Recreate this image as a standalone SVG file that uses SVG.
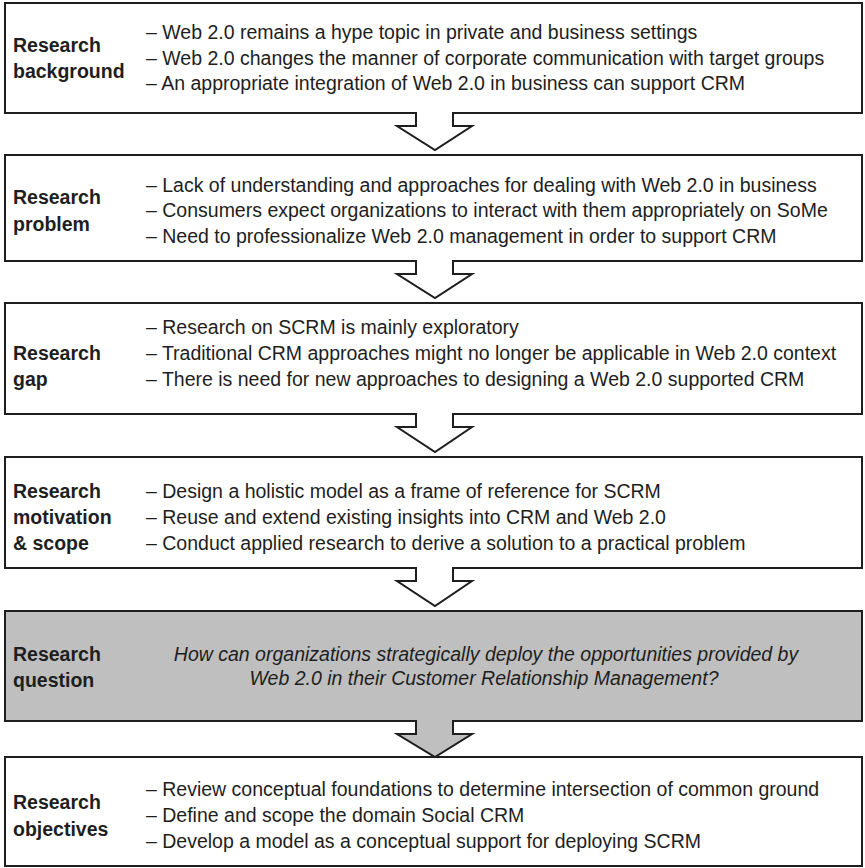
<svg xmlns="http://www.w3.org/2000/svg" width="865" height="868" viewBox="0 0 865 868">
  <style>
    .box { fill: #ffffff; stroke: #1e1e1e; stroke-width: 2; stroke-linejoin: miter; }
    .box.q { fill: #bfbfbf; }
    .lbl { font-family: "Liberation Sans", Arial, sans-serif; font-size: 19.5px; font-weight: bold; fill: #1e1e1e; }
    .itm { font-family: "Liberation Sans", Arial, sans-serif; font-size: 19.5px; fill: #1e1e1e; }
    .qst { font-family: "Liberation Sans", Arial, sans-serif; font-size: 19.5px; font-style: italic; fill: #1e1e1e; text-anchor: middle; }
  </style>

  <!-- Each box outline carries its own downward block arrow (stem 416-453, head 397-472, tip at x=435) -->
  <g id="connectors">
    <!-- arrows are built into the box outlines below -->
  </g>

  <g id="background">
    <path class="box" d="M5,3 H862 V113 H453 V126 H472 L435,150 L397,126 H416 V113 H5 Z"/>
    <text class="lbl" x="13" y="52">Research</text>
    <text class="lbl" x="13" y="78">background</text>
    <text class="itm" x="146" y="39">– Web 2.0 remains a hype topic in private and business settings</text>
    <text class="itm" x="146" y="65">– Web 2.0 changes the manner of corporate communication with target groups</text>
    <text class="itm" x="146" y="90">– An appropriate integration of Web 2.0 in business can support CRM</text>
  </g>

  <g id="problem">
    <path class="box" d="M5,155 H862 V261 H453 V274 H472 L435,298 L397,274 H416 V261 H5 Z"/>
    <text class="lbl" x="13" y="204">Research</text>
    <text class="lbl" x="13" y="231">problem</text>
    <text class="itm" x="146" y="192">– Lack of understanding and approaches for dealing with Web 2.0 in business</text>
    <text class="itm" x="146" y="217">– Consumers expect organizations to interact with them appropriately on SoMe</text>
    <text class="itm" x="146" y="243">– Need to professionalize Web 2.0 management in order to support CRM</text>
  </g>

  <g id="gap">
    <path class="box" d="M5,303 H862 V414 H453 V427 H472 L435,452 L397,427 H416 V414 H5 Z"/>
    <text class="lbl" x="13" y="360">Research</text>
    <text class="lbl" x="13" y="386">gap</text>
    <text class="itm" x="146" y="334">– Research on SCRM is mainly exploratory</text>
    <text class="itm" x="146" y="360">– Traditional CRM approaches might no longer be applicable in Web 2.0 context</text>
    <text class="itm" x="146" y="386">– There is need for new approaches to designing a Web 2.0 supported CRM</text>
  </g>

  <g id="motivation">
    <path class="box" d="M5,457 H862 V568 H453 V581 H472 L435,606 L397,581 H416 V568 H5 Z"/>
    <text class="lbl" x="13" y="498">Research</text>
    <text class="lbl" x="13" y="524">motivation</text>
    <text class="lbl" x="13" y="550">&amp; scope</text>
    <text class="itm" x="146" y="498">– Design a holistic model as a frame of reference for SCRM</text>
    <text class="itm" x="146" y="524">– Reuse and extend existing insights into CRM and  Web 2.0</text>
    <text class="itm" x="146" y="550">– Conduct applied research to derive a solution to a practical problem</text>
  </g>

  <g id="question">
    <path class="box q" d="M5,611 H862 V721 H453 V734 H472 L435,757 L397,734 H416 V721 H5 Z"/>
    <text class="lbl" x="13" y="661">Research</text>
    <text class="lbl" x="13" y="687">question</text>
    <text class="qst" x="486" y="661">How can organizations strategically deploy the opportunities provided by</text>
    <text class="qst" x="484" y="685">Web 2.0 in their Customer Relationship Management?</text>
  </g>

  <g id="objectives">
    <rect class="box" x="5" y="757" width="857" height="109"/>
    <text class="lbl" x="13" y="809">Research</text>
    <text class="lbl" x="13" y="836">objectives</text>
    <text class="itm" x="146" y="796">– Review conceptual foundations to determine intersection of common ground</text>
    <text class="itm" x="146" y="822">– Define and scope the domain Social CRM</text>
    <text class="itm" x="146" y="848">– Develop a model as a conceptual support for deploying SCRM</text>
  </g>
</svg>
